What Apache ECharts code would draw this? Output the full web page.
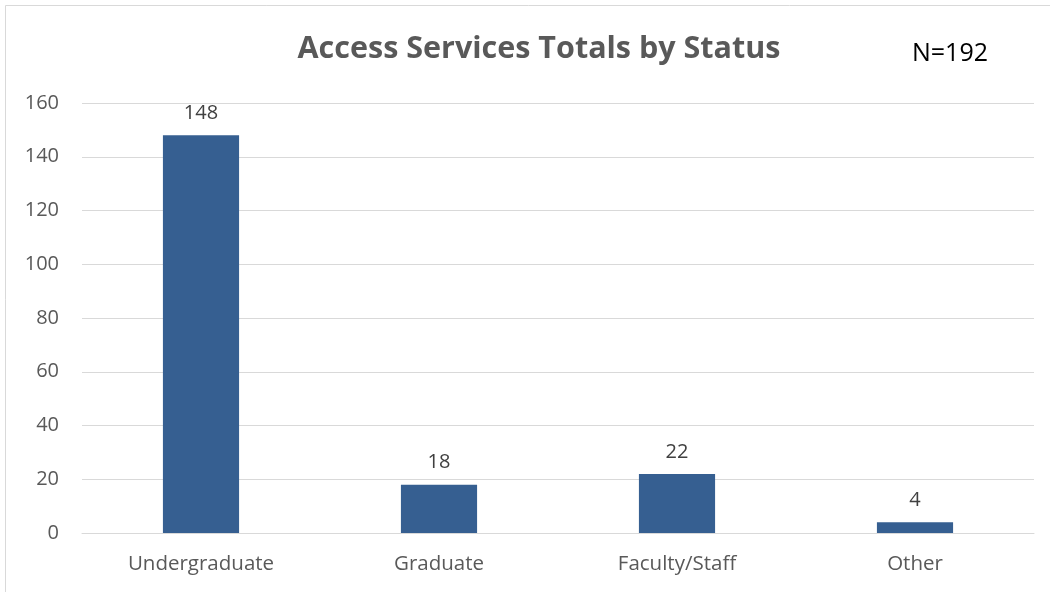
<!DOCTYPE html>
<html>
<head>
<meta charset="utf-8">
<title>Access Services Totals by Status</title>
<script src="https://cdn.jsdelivr.net/npm/echarts@6/dist/echarts.min.js"></script>
<style>
  html, body { margin: 0; padding: 0; background: #fff; }
  #chart { width: 1050px; height: 592px; }
</style>
</head>
<body>
<div id="chart"></div>
<script>
// Chart data
const categories = ['Undergraduate', 'Graduate', 'Faculty/Staff', 'Other'];
const totals = [148, 18, 22, 4];
const yTicks = { min: 0, max: 160, interval: 20 };
const titleText = 'Access Services Totals by Status';
const noteText = 'N=192';

const FONT = '"Open Sans", "Noto Sans", sans-serif';
const chart = echarts.init(document.getElementById('chart'), null, { renderer: 'canvas' });

chart.setOption({
  backgroundColor: '#ffffff',
  animation: false,
  title: [
    {
      text: titleText,
      left: 534,
      top: 29,
      textAlign: 'center',
      textStyle: { fontFamily: FONT, fontSize: 30.5, fontWeight: 'bold', color: '#595959' }
    },
    {
      text: noteText,
      left: 907,
      top: 36,
      textStyle: { fontFamily: FONT, fontSize: 25, fontWeight: 'normal', color: '#000000' }
    }
  ],
  graphic: [
    {
      type: 'rect',
      shape: { x: 5.5, y: 5.5, width: 1200, height: 1200 },
      style: { fill: 'none', stroke: '#d9d9d9', lineWidth: 1 },
      silent: true
    }
  ],
  grid: { left: 82, right: 16, top: 103, bottom: 59, containLabel: false },
  xAxis: {
    type: 'category',
    data: categories,
    axisLine: { show: true, lineStyle: { color: '#d9d9d9', width: 1 } },
    axisTick: { show: false },
    axisLabel: { fontFamily: FONT, fontSize: 20.5, color: '#595959', margin: 21 }
  },
  yAxis: {
    type: 'value',
    min: yTicks.min,
    max: yTicks.max,
    interval: yTicks.interval,
    axisLine: { show: false },
    axisTick: { show: false },
    splitLine: { lineStyle: { color: '#d9d9d9', width: 1 } },
    axisLabel: { fontFamily: FONT, fontSize: 20, color: '#595959', margin: 23 }
  },
  series: [
    {
      type: 'bar',
      data: totals,
      barWidth: '32%',
      itemStyle: { color: '#365f91' },
      label: {
        show: true,
        position: 'top',
        distance: 12,
        fontFamily: FONT,
        fontSize: 20,
        color: '#404040'
      }
    }
  ]
});
</script>
</body>
</html>
